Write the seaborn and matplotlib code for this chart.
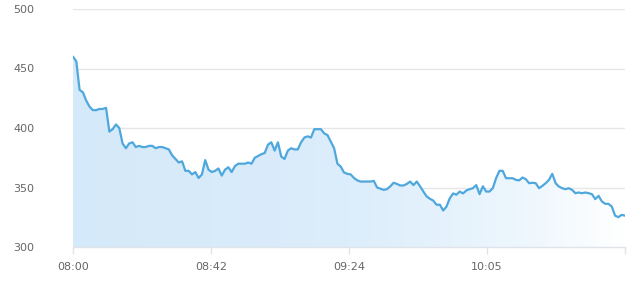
import numpy as np
import pandas as pd
import matplotlib
matplotlib.use("Agg")
import matplotlib.pyplot as plt
import seaborn as sns
from matplotlib.colors import LinearSegmentedColormap

# ---- data ----
values_part1 = [460, 456, 432, 430, 423, 418, 415, 415, 416, 416,
                417, 397, 399, 403, 400, 387, 383, 387, 388, 384,
                385, 384, 384, 385, 385, 383, 384, 384, 383, 382,
                377, 374, 371, 372, 364, 364, 361, 363, 358, 361,
                373, 365, 363, 364, 366, 360, 365, 367, 363, 368,
                370, 370, 370, 371, 370, 375, 376.5, 378, 379, 386,
                388, 381, 388, 376, 374, 381, 383, 382, 382, 388,
                392, 393, 392, 399, 399]
values_part2 = [399, 395.5, 394, 388.5, 383, 370, 367.6, 362.6, 361.5, 361,
                358, 356, 355, 355, 355, 355, 355.6, 350, 349, 348,
                348.6, 351, 354, 353, 351.7, 351.7, 353, 355, 352, 355,
                351, 346.6, 342.5, 340.5, 339, 335.5, 335.5, 330.7, 334, 341,
                345, 344, 346.6, 345, 347.5, 348.6, 349.4, 352, 344.4, 351,
                346.6, 346.6, 349.4, 357.8, 364, 364, 357.8, 357.8, 357.8, 356.4,
                356, 358.4, 357, 353.6, 354, 353.6, 349.4, 351.4, 353.6, 356.4,
                361.5, 353.6, 350.8, 349.4, 348.6, 349.4, 348, 345.2, 345.8, 345.2,
                345.8, 345.2, 344.4, 340.2, 343, 338.3, 336.3, 336.3, 334, 326.3,
                325.1, 327, 326.3]
prices = values_part1 + values_part2
tick_labels = ["08:00", "08:42", "09:24", "10:05", ""]
y_ticks = [300, 350, 400, 450, 500]

n = len(prices)
df = pd.DataFrame({"idx": np.arange(n), "price": prices})

sns.set_theme(style="white")
plt.rcParams['font.family'] = ['DejaVu Sans']

fig = plt.figure(figsize=(6.4, 2.84), dpi=100)
ax = fig.add_axes([73/640, 1 - 247/284, (625 - 73)/640, (247 - 9)/284])

ymin, ymax = 300, 500
xmax = n - 1

# gradient fill under the line
poly = ax.fill_between(df["idx"], df["price"], ymin, color="none", lw=0)
cmap = LinearSegmentedColormap.from_list(
    "g", [(0.0, "#d4e9f9"), (0.5, "#dcedfb"), (0.8, "#ecf6fd"), (1.0, "#ffffff")])
grad = np.linspace(0, 1, 256).reshape(1, -1)
im = ax.imshow(grad, cmap=cmap, aspect="auto", extent=[0, xmax, ymin, ymax],
               origin="lower", zorder=1)
path = poly.get_paths()[0]
im.set_clip_path(path, transform=ax.transData)

sns.lineplot(data=df, x="idx", y="price", ax=ax, color="#4ea7dd", lw=1.6, zorder=3)

ax.set_xlim(0, xmax)
ax.set_ylim(ymin, ymax)
ax.set_yticks(y_ticks)
ax.set_yticklabels([str(v) for v in y_ticks])
xt = [i * xmax / 4 for i in range(5)]
ax.set_xticks(xt)
ax.set_xticklabels(tick_labels)
ax.set_xlabel("")
ax.set_ylabel("")

ax.grid(axis="y", color="#e6e6e6", lw=1, zorder=0)
ax.set_axisbelow(True)
for s in ["top", "right", "left"]:
    ax.spines[s].set_visible(False)
ax.spines["bottom"].set_color("#dfe4ea")
ax.spines["bottom"].set_linewidth(1)
ax.spines["bottom"].set_zorder(4)

ax.tick_params(axis="y", length=0, pad=28, labelsize=8, labelcolor="#666666")
ax.tick_params(axis="x", length=5, width=1, color="#dfe4ea", pad=6,
               labelsize=8, labelcolor="#666666", bottom=True)
for lab in ax.get_yticklabels():
    lab.set_horizontalalignment("right")

fig.savefig("out.png", dpi=100, facecolor="white")
